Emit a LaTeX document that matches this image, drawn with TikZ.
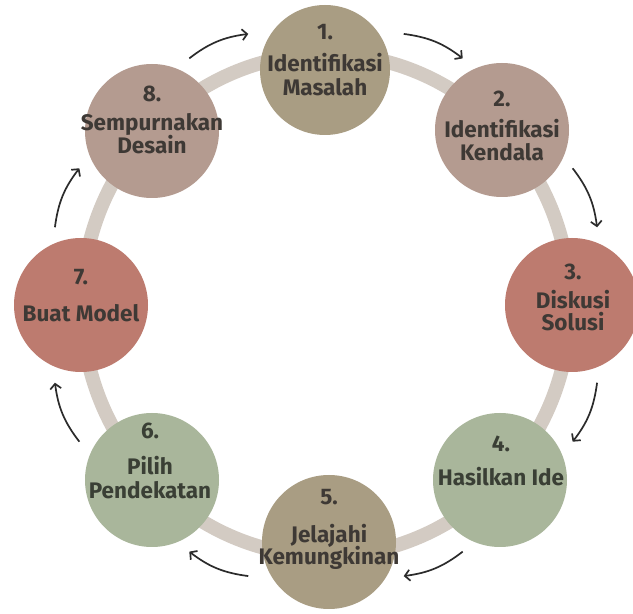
\documentclass[tikz,border=0pt]{standalone}
\usepackage{fontspec}
\setmainfont{Fira Sans}
\usetikzlibrary{arrows.meta,calc}
\definecolor{ringcol}{HTML}{D3CBC3}
\definecolor{olive}{HTML}{A99D83}
\definecolor{rose}{HTML}{B49B90}
\definecolor{terra}{HTML}{BD7B6F}
\definecolor{sage}{HTML}{A9B69B}
\definecolor{txtbrown}{HTML}{3E3935}
\definecolor{txtgreen}{HTML}{3A3F35}
\definecolor{arrowcol}{HTML}{2B2B2B}
\tikzset{
  stage/.style={circle, draw=none, minimum size=134pt, inner sep=0pt},
  lbl/.style={anchor=base, inner sep=0pt, font=\fontsize{22.5}{24}\selectfont\bfseries, text=txtbrown},
  lblg/.style={lbl, text=txtgreen},
  cyc/.style={draw=arrowcol, line width=1.7pt, -{Straight Barb[length=5pt,width=11pt,line width=1.7pt]}, bend left=15},
  ringline/.style={draw=ringcol, line width=14pt}
}
\begin{document}
\begin{tikzpicture}[x=1pt,y=1pt]
\useasboundingbox (0,0) rectangle (633,614);
\fill[white] (0,0) rectangle (633,614);
\coordinate (ctr) at (326,309);
\draw[ringline] (ctr) ellipse [x radius=244, y radius=251];
% stages
\node[stage, fill=olive, minimum size=130pt] (c1) at (325,544) {};
\node[stage, fill=rose] (c2) at (502,484) {};
\node[stage, fill=terra] (c3) at (572,309) {};
\node[stage, fill=sage] (c4) at (500,134) {};
\node[stage, fill=olive] (c5) at (329,72) {};
\node[stage, fill=sage] (c6) at (152,134) {};
\node[stage, fill=terra] (c7) at (81,309) {};
\node[stage, fill=rose] (c8) at (152,483) {};
% labels
\node[lbl] (t1n) at (325,574) {1.};
\node[lbl] (t1a) at (325,542) {Identifikasi};
\node[lbl] (t1b) at (325,518) {Masalah};
\node[lbl] (t2n) at (502,507.3) {2.};
\node[lbl] (t2a) at (502,476.7) {Identifikasi};
\node[lbl] (t2b) at (502,453.3) {Kendala};
\node[lbl] (t3n) at (573,334) {3.};
\node[lbl] (t3a) at (573,305.7) {Diskusi};
\node[lbl] (t3b) at (573,283) {Solusi};
\node[lblg] (t4n) at (501,162.3) {4.};
\node[lblg] (t4a) at (501,128) {Hasilkan Ide};
\node[lbl] (t5n) at (329,109) {5.};
\node[lbl] (t5a) at (329,71) {Jelajahi};
\node[lbl] (t5b) at (329,49) {Kemungkinan};
\node[lblg] (t6n) at (150,175) {6.};
\node[lblg] (t6a) at (150,139) {Pilih};
\node[lblg] (t6b) at (150,115) {Pendekatan};
\node[lbl] (t7n) at (81,329) {7.};
\node[lbl] (t7a) at (81,292) {Buat Model};
\node[lbl] (t8n) at (152,512.3) {8.};
\node[lbl] (t8a) at (152,483.3) {Sempurnakan};
\node[lbl] (t8b) at (152,460) {Desain};
% arrow end points
\foreach \n/\s/\e in {81/119/106, 12/74/61, 23/29/16, 34/-16/-29, 45/-61/-74, 56/-106/-119, 67/-151/-164, 78/164/151}{
  \coordinate (s\n) at ($(ctr)+(\s:282)$);
  \coordinate (e\n) at ($(ctr)+(\e:282)$);
}
\foreach \n in {81,12,23,34,45,56,67,78}{
  \draw[cyc] (s\n) to (e\n);
}
\end{tikzpicture}
\end{document}
